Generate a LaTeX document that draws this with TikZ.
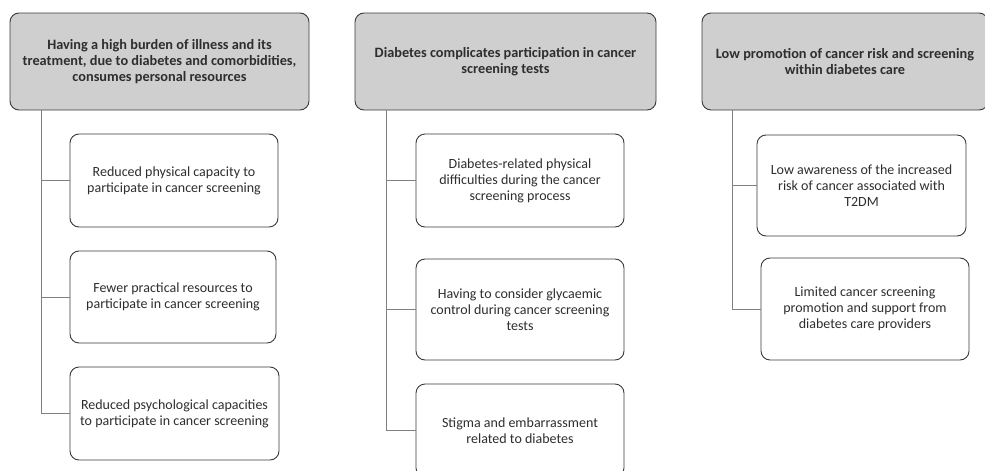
\documentclass[tikz,border=0pt]{standalone}
\usepackage{fontspec}
\setmainfont{Carlito}
\begin{document}
\begin{tikzpicture}[x=1pt,y=-1pt,
  hdr/.style={draw=boxline, fill=hdrfill, line width=0.9pt, rounded corners=9pt, align=center,
    font=\fontsize{14.3}{16}\selectfont\bfseries, text=txt, inner sep=0pt},
  sub/.style={draw=boxline, fill=white, line width=0.9pt, rounded corners=9pt, align=center,
    font=\fontsize{14}{16}\selectfont, text=txt, inner sep=0pt},
  conn/.style={draw=connc, line width=0.9pt}]
\definecolor{hdrfill}{HTML}{CFCFCF}
\definecolor{boxline}{HTML}{3A3A3A}
\definecolor{connc}{HTML}{808080}
\definecolor{txt}{HTML}{2E2E2E}
\useasboundingbox (0,0) rectangle (985,471);
\clip (0,0) rectangle (985,471);
% column 1
\node[hdr, minimum width=299pt, minimum height=97pt] (h1) at (159.5,61.5)
  {Having a high burden of illness and its\\treatment, due to diabetes and comorbidities,\\consumes personal resources};
\node[sub, minimum width=208pt, minimum height=93pt] (c11) at (174,180.5)
  {Reduced physical capacity to\\participate in cancer screening};
\node[sub, minimum width=206pt, minimum height=92pt] (c12) at (173,297)
  {Fewer practical resources to\\participate in cancer screening};
\node[sub, minimum width=209pt, minimum height=93pt] (c13) at (174.5,413.5)
  {Reduced psychological capacities\\to participate in cancer screening};
\coordinate (v1) at (41,0);
\draw[conn] (v1 |- h1.south) |- (c13.west);
\draw[conn] (v1 |- c11.west) -- (c11.west);
\draw[conn] (v1 |- c12.west) -- (c12.west);
% column 2
\node[hdr, minimum width=301pt, minimum height=97pt] (h2) at (505.5,61.5)
  {Diabetes complicates participation in cancer\\screening tests};
\node[sub, minimum width=208pt, minimum height=93pt] (c21) at (520,180.5)
  {Diabetes-related physical\\difficulties during the cancer\\screening process};
\node[sub, minimum width=208pt, minimum height=101pt] (c22) at (520,309.5)
  {Having to consider glycaemic\\control during cancer screening\\tests};
\node[sub, minimum width=208pt, minimum height=93pt] (c23) at (520,430.5)
  {Stigma and embarrassment\\related to diabetes};
\coordinate (v2) at (386,0);
\draw[conn] (v2 |- h2.south) |- (c23.west);
\draw[conn] (v2 |- c21.west) -- (c21.west);
\draw[conn] (v2 |- c22.west) -- (c22.west);
% column 3
\node[hdr, minimum width=286pt, minimum height=97pt] (h3) at (845,61.5)
  {Low promotion of cancer risk and screening\\within diabetes care};
\node[sub, minimum width=209pt, minimum height=101pt] (c31) at (861.5,185.5)
  {Low awareness of the increased\\risk of cancer associated with\\T2DM};
\node[sub, minimum width=208pt, minimum height=102pt] (c32) at (865,309)
  {Limited cancer screening\\promotion and support from\\diabetes care providers};
\coordinate (v3) at (732,0);
\draw[conn] (v3 |- h3.south) |- (c32.west);
\draw[conn] (v3 |- c31.west) -- (c31.west);
\end{tikzpicture}
\end{document}
